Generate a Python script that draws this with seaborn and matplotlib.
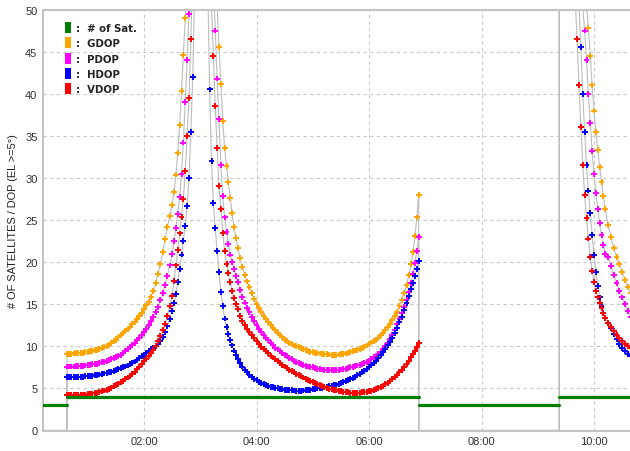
import matplotlib
matplotlib.use("Agg")
import matplotlib.pyplot as plt
from matplotlib.patches import Patch
from matplotlib.ticker import FixedLocator, FuncFormatter
import pandas as pd
import seaborn as sns

# ---------------- data (time in minutes after 00:00) ----------------
# satellites in view: segments (start, end, count)
sat_start = [12, 38, 413, 563]
sat_end = [38, 413, 563, 640]
sat_count = [3, 4, 3, 4]

# ---- first DOP pass ----
t1 = [38, 40, 42.5, 45, 47.5, 50, 52.5, 55, 57.5, 60, 62.5, 65, 67.5, 70, 72.5, 75,
      77.5, 80, 82.5, 85, 87.5, 90, 92.5, 95, 97.5, 100, 102.5, 105, 107.5, 110,
      112.5, 115, 117.5, 120, 122.5, 125, 127.5, 130, 132.5, 135, 137.5, 140, 142.5,
      145, 147.5, 150,
      152, 154, 156, 158, 160, 162, 164, 166, 168, 170, 172, 174, 176, 178, 180,
      182, 184, 186, 188, 190, 192, 194, 196, 198, 200, 202, 204, 206, 208, 210,
      212, 214, 216, 218,
      220, 222.5, 225, 227.5, 230, 232.5, 235, 237.5, 240, 242.5, 245, 247.5, 250,
      252.5, 255, 257.5, 260, 262.5, 265, 267.5, 270, 272.5, 275, 277.5, 280, 282.5,
      285, 287.5, 290, 292.5, 295, 297.5, 300, 302.5, 305, 307.5, 310, 312.5, 315,
      317.5, 320, 322.5, 325, 327.5, 330, 332.5, 335, 337.5, 340, 342.5, 345, 347.5,
      350, 352.5, 355, 357.5, 360, 362.5, 365, 367.5, 370, 372.5, 375, 377.5, 380,
      382.5, 385, 387.5, 390, 392.5, 395, 397.5, 400, 402.5, 405,
      407, 409, 411, 413]

gdop1 = [9.1, 9.1, 9.12, 9.15, 9.17, 9.2, 9.22, 9.25, 9.3, 9.35, 9.4, 9.45, 9.52, 9.6,
         9.7, 9.8, 9.92, 10.05, 10.2, 10.4, 10.6, 10.8, 11.05, 11.3, 11.55, 11.8, 12.05,
         12.3, 12.6, 12.9, 13.25, 13.6, 14.0, 14.4, 14.85, 15.3, 15.9, 16.6, 17.5, 18.6,
         19.8, 21.2, 22.7, 24.2, 25.5, 26.8,
         28.3, 30.4, 33.0, 36.3, 40.3, 44.6, 49.0, 54, 61, 70, 82, 98, 120, 150, 170,
         150, 125, 105, 90, 79, 70, 62, 56, 50.5, 45.5, 41.2, 36.8, 33.5, 31.4, 29.5,
         27.6, 25.8, 24.2, 22.9,
         21.7, 20.5, 19.4, 18.5, 17.7, 17.0, 16.3, 15.6, 15.0, 14.55, 14.1, 13.65, 13.2,
         12.85, 12.5, 12.2, 11.9, 11.6, 11.3, 11.05, 10.8, 10.6, 10.4, 10.25, 10.1, 10.0,
         9.9, 9.77, 9.65, 9.55, 9.45, 9.37, 9.3, 9.25, 9.2, 9.15, 9.1, 9.07, 9.05,
         9.02, 9.0, 9.0, 9.0, 9.02, 9.05, 9.1, 9.15, 9.22, 9.3, 9.4, 9.5, 9.6,
         9.7, 9.82, 9.95, 10.1, 10.3, 10.45, 10.6, 10.8, 11.0, 11.3, 11.6, 11.95, 12.3,
         12.7, 13.1, 13.55, 14.1, 14.75, 15.5, 16.35, 17.3, 18.45, 19.8,
         21.2, 23.1, 25.3, 28.0]

pdop1 = [7.6, 7.6, 7.6, 7.6, 7.62, 7.65, 7.67, 7.7, 7.72, 7.75, 7.8, 7.85, 7.9, 7.95,
         8.02, 8.1, 8.17, 8.25, 8.35, 8.45, 8.57, 8.7, 8.85, 9.0, 9.2, 9.4, 9.65,
         9.9, 10.15, 10.4, 10.7, 11.0, 11.35, 11.7, 12.1, 12.5, 13.0, 13.5, 14.1, 14.7,
         15.45, 16.3, 17.3, 18.4, 19.6, 21.0,
         22.5, 24.0, 25.7, 27.7, 30.5, 34.2, 39.0, 44.0, 49.5, 56, 65, 77, 92, 112, 125,
         118, 100, 86, 75, 67, 60, 53.5, 47.5, 41.8, 37.0, 31.5, 27.8, 25.3, 23.6, 22.1,
         20.9, 20.0, 19.2, 18.4,
         17.6, 16.7, 15.9, 15.2, 14.6, 14.05, 13.5, 13.0, 12.5, 12.1, 11.7, 11.35, 11.0,
         10.7, 10.4, 10.1, 9.85, 9.62, 9.4, 9.2, 9.0, 8.8, 8.6, 8.45, 8.3, 8.15,
         8.0, 7.9, 7.8, 7.7, 7.6, 7.55, 7.5, 7.42, 7.35, 7.3, 7.25, 7.22, 7.2,
         7.2, 7.2, 7.2, 7.2, 7.22, 7.25, 7.3, 7.35, 7.42, 7.5, 7.57, 7.65, 7.72,
         7.8, 7.9, 8.0, 8.15, 8.3, 8.5, 8.7, 8.9, 9.1, 9.35, 9.65, 10.0, 10.4,
         10.85, 11.3, 11.9, 12.6, 13.2, 13.9, 14.65, 15.5, 16.45, 17.5,
         18.6, 19.9, 21.3, 23.0]

hdop1 = [6.35, 6.35, 6.35, 6.35, 6.35, 6.35, 6.37, 6.4, 6.42, 6.45, 6.47, 6.5, 6.55, 6.6,
         6.65, 6.7, 6.77, 6.85, 6.92, 7.0, 7.1, 7.2, 7.3, 7.4, 7.5, 7.6, 7.72,
         7.85, 8.02, 8.2, 8.4, 8.6, 8.8, 9.0, 9.22, 9.45, 9.65, 9.85, 10.05, 10.3,
         10.65, 11.1, 11.7, 12.4, 13.25, 14.2,
         15.1, 16.2, 17.6, 19.2, 20.9, 22.5, 24.3, 26.7, 30.0, 35.5, 42.0, 52, 64, 80, 100,
         110, 95, 72, 53, 40.5, 32.0, 27.0, 24.0, 21.3, 18.8, 16.5, 14.8, 13.3, 12.3, 11.5,
         10.8, 10.1, 9.5, 9.0,
         8.5, 8.0, 7.6, 7.22, 6.9, 6.6, 6.35, 6.13, 5.95, 5.8, 5.65, 5.52, 5.4,
         5.3, 5.2, 5.12, 5.05, 5.0, 4.95, 4.9, 4.85, 4.82, 4.8, 4.77, 4.75, 4.74,
         4.73, 4.74, 4.75, 4.77, 4.8, 4.85, 4.9, 4.95, 5.0, 5.05, 5.1, 5.15, 5.2,
         5.25, 5.3, 5.37, 5.45, 5.55, 5.65, 5.75, 5.85, 5.97, 6.1, 6.25, 6.4, 6.57,
         6.75, 6.92, 7.1, 7.3, 7.5, 7.75, 8.0, 8.3, 8.6, 8.95, 9.3, 9.7, 10.1,
         10.55, 11.0, 11.6, 12.2, 12.85, 13.5, 14.3, 15.1, 15.95, 16.8,
         17.5, 18.4, 19.2, 20.1]

vdop1 = [4.2, 4.2, 4.2, 4.2, 4.2, 4.2, 4.22, 4.25, 4.27, 4.3, 4.35, 4.4, 4.45, 4.5,
         4.57, 4.65, 4.75, 4.85, 4.97, 5.1, 5.25, 5.4, 5.57, 5.75, 5.92, 6.1, 6.3,
         6.5, 6.75, 7.0, 7.3, 7.6, 7.9, 8.2, 8.55, 8.9, 9.25, 9.6, 10.05, 10.6,
         11.2, 11.9, 12.7, 13.6, 14.75, 16.0,
         17.8, 19.6, 21.4, 23.4, 25.4, 27.5, 30.8, 35.0, 39.5, 46.5, 56, 68, 85, 110, 130,
         120, 95, 78, 66, 57, 50.5, 44.5, 38.5, 33.5, 29.0, 26.3, 23.5, 21.3, 19.8, 18.7,
         17.6, 16.6, 15.7, 15.0,
         14.4, 13.65, 13.0, 12.55, 12.1, 11.7, 11.3, 10.95, 10.6, 10.27, 9.95, 9.67, 9.4,
         9.15, 8.9, 8.67, 8.45, 8.22, 8.0, 7.8, 7.6, 7.4, 7.2, 7.05, 6.9, 6.75,
         6.6, 6.45, 6.3, 6.15, 6.0, 5.87, 5.75, 5.62, 5.5, 5.37, 5.25, 5.15, 5.05,
         4.97, 4.9, 4.85, 4.8, 4.72, 4.65, 4.6, 4.55, 4.52, 4.5, 4.5, 4.5, 4.5,
         4.5, 4.52, 4.55, 4.6, 4.65, 4.72, 4.8, 4.9, 5.0, 5.15, 5.3, 5.47, 5.65,
         5.87, 6.1, 6.35, 6.6, 6.9, 7.2, 7.55, 7.9, 8.3, 8.7,
         9.1, 9.5, 9.9, 10.4]

# ---- second DOP pass ----
t2 = [563, 566, 570, 574, 577, 580, 582, 584, 586, 588, 590, 592, 594, 596, 598, 600,
      602, 604, 606, 608, 610, 612, 615, 618, 621, 624, 627, 630, 633, 636, 639]

gdop2 = [200, 150, 115, 95, 83, 73, 68, 63, 59, 55.5, 52.5, 50.5, 47.8, 44.5, 41.0, 38.0,
         35.5, 33.3, 31.3, 29.5, 27.8, 26.3, 24.4, 23.0, 21.7, 20.6, 19.8, 18.8, 17.9,
         17.0, 16.3]
pdop2 = [180, 130, 100, 80, 68, 61, 57, 54.5, 52.5, 50.3, 47.5, 44.0, 40.0, 36.5, 33.2,
         30.5, 28.2, 26.3, 24.6, 23.2, 22.0, 21.0, 20.6, 19.5, 18.5, 17.5, 16.6, 15.8,
         15.0, 14.2, 13.5]
hdop2 = [150, 110, 85, 70, 62, 56, 53, 50.3, 45.5, 40.0, 35.5, 31.5, 28.5, 25.8, 23.2,
         20.8, 18.8, 17.2, 15.8, 14.8, 14.0, 13.4, 12.8, 12.2, 11.5, 10.9, 10.3, 9.8,
         9.4, 9.1, 8.85]
vdop2 = [120, 90, 72, 61, 55, 51, 46.5, 41.0, 36.0, 31.5, 28.0, 25.2, 22.8, 20.6, 18.9,
         17.6, 16.6, 15.8, 15.1, 14.5, 13.9, 13.4, 12.8, 12.3, 11.8, 11.3, 10.95, 10.6,
         10.3, 10.05, 9.85]

series_names = ["GDOP", "PDOP", "HDOP", "VDOP"]
series_colors = ["#FFA500", "#FF00FF", "#0000FF", "#FF0000"]
seg1_vals = [gdop1, pdop1, hdop1, vdop1]
seg2_vals = [gdop2, pdop2, hdop2, vdop2]

x_ticks_h = [2, 4, 6, 8, 10]
y_ticks = [0, 5, 10, 15, 20, 25, 30, 35, 40, 45, 50]
legend_labels = [":  # of Sat.", ":  GDOP", ":  PDOP", ":  HDOP", ":  VDOP"]
sat_color = "#008000"

for v in seg1_vals:
    assert len(v) == len(t1), (len(v), len(t1))
for v in seg2_vals:
    assert len(v) == len(t2)

# ---------------- tables ----------------
line_rows, mark_rows = [], []
for name, v1, v2 in zip(series_names, seg1_vals, seg2_vals):
    # gray connecting line, dropping to 0 where no solution is available
    lt = [sat_start[0], t1[0]] + t1 + [t1[-1], t2[0]] + t2
    lv = [0, 0] + v1 + [0, 0] + v2
    for t, v in zip(lt, lv):
        line_rows.append({"t": t / 60.0, "v": v, "series": name})
    for t, v in zip(t1 + t2, v1 + v2):
        mark_rows.append({"t": t / 60.0, "v": v, "series": name})
df_line = pd.DataFrame(line_rows)
df_mark = pd.DataFrame(mark_rows)

sat_rows = []
for i, (a, b, c) in enumerate(zip(sat_start, sat_end, sat_count)):
    sat_rows.append({"t": a / 60.0, "n": c, "seg": i})
    sat_rows.append({"t": b / 60.0, "n": c, "seg": i})
df_sat = pd.DataFrame(sat_rows)

# ---------------- plot ----------------
sns.set_theme(style="white")
plt.rcParams["font.family"] = ["Liberation Sans", "DejaVu Sans"]

fig = plt.figure(figsize=(6.3, 4.52), dpi=100)
ax = fig.add_axes([43 / 630, 20.5 / 452, 587 / 630, 421 / 452])

sns.lineplot(data=df_line, x="t", y="v", units="series", estimator=None, sort=False,
             color="#bdbdbd", linewidth=0.8, ax=ax, zorder=2)
sns.scatterplot(data=df_mark, x="t", y="v", hue="series", hue_order=series_names,
                palette=series_colors, marker="+", s=18, linewidth=1.4,
                legend=False, ax=ax, zorder=3)
sns.lineplot(data=df_sat, x="t", y="n", units="seg", estimator=None, sort=False,
             color=sat_color, linewidth=2.3, ax=ax, zorder=4)

ax.set_xlim(0.2044, 10.64)
ax.set_ylim(0, 50)
ax.xaxis.set_major_locator(FixedLocator(x_ticks_h))
ax.xaxis.set_major_formatter(FuncFormatter(lambda v, p: f"{int(round(v)):02d}:00"))
ax.set_yticks(y_ticks)

ax.grid(True, color="#c8c8c8", linestyle=(0, (3, 3)), linewidth=0.8)
ax.set_axisbelow(True)
for side in ["left", "bottom", "top"]:
    ax.spines[side].set_visible(True)
    ax.spines[side].set_color("#c4c4c4")
    ax.spines[side].set_linewidth(1.5)
ax.spines["right"].set_visible(False)

ax.tick_params(axis="both", length=0, labelsize=8, labelcolor="#333333")
ax.tick_params(axis="x", pad=4)
ax.tick_params(axis="y", pad=4)
ax.set_xlabel("")
ax.set_ylabel("# OF SATELLITES / DOP (EL >=5°)", fontsize=7.9, color="#222222",
              labelpad=5)

handles = [Patch(facecolor=sat_color, edgecolor="none")] + \
          [Patch(facecolor=c, edgecolor="none") for c in series_colors]
ax.legend(handles=handles, labels=legend_labels, loc="upper left",
          bbox_to_anchor=(22 / 587, 0.97), frameon=False, borderpad=0,
          borderaxespad=0, handlelength=0.55, handleheight=1.29,
          handletextpad=0.5, labelspacing=0.42,
          prop={"family": ["DejaVu Sans"], "weight": "bold", "size": 7.3})

fig.savefig("out.png", dpi=100)
